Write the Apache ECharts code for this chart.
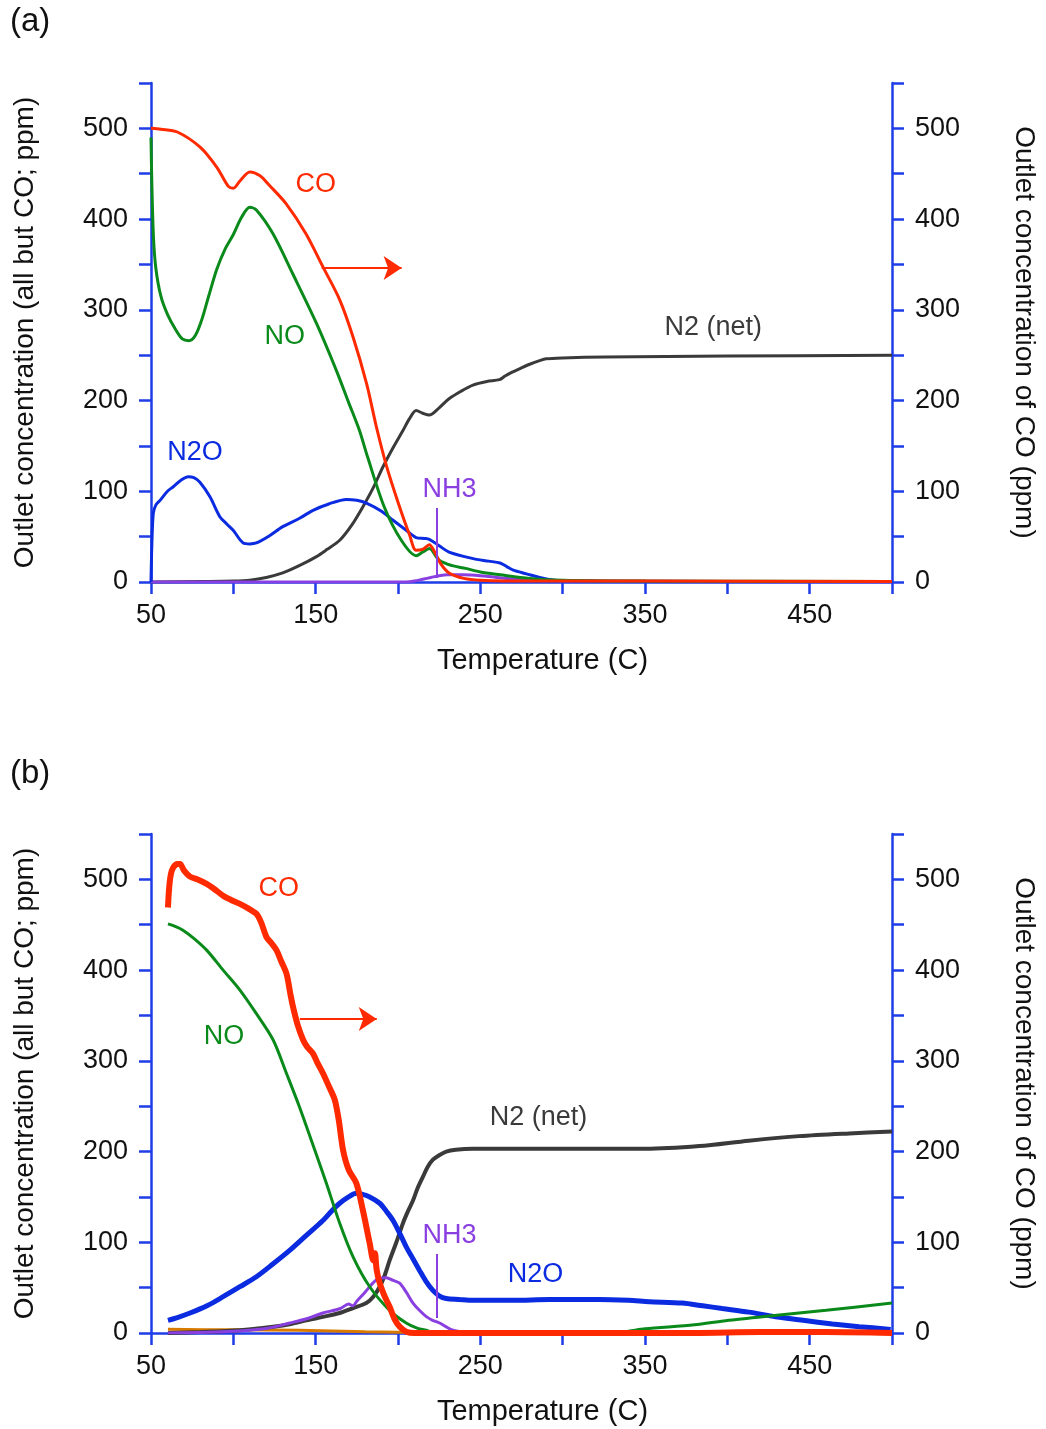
<!DOCTYPE html>
<html>
<head>
<meta charset="utf-8">
<script src="https://cdn.jsdelivr.net/npm/echarts@6/dist/echarts.min.js"></script>
<style>
  html, body { margin: 0; padding: 0; background: #fff; }
  #chart { width: 1046px; height: 1429px; }
</style>
</head>
<body>
<div id="chart"></div>
<script>
// ---- panel (a) ----
var aCoT  = [50, 56, 66, 80, 90, 97, 100, 104, 110, 116, 122, 132, 144, 154.5, 164.6, 172.7, 181, 187, 193, 200, 207, 211, 215, 219, 222, 226, 231, 240, 250, 280, 350, 500];
var aCo   = [500, 499, 496, 479, 457, 436, 434, 442, 452, 448, 437, 417, 384, 347, 311, 270, 218, 170, 128, 88, 52, 35, 36, 41, 34, 20, 10, 4, 2, 1, 1, 0.5];
var aNoT  = [50, 50.5, 51.5, 53, 56, 60, 65, 69, 73, 77, 81, 85, 90, 95, 100, 105, 110, 114, 124, 136, 150.5, 162.6, 170, 176.6, 181.5, 191.6, 202, 211, 215, 219, 225, 233, 241, 250, 262, 280, 300, 350, 500];
var aNo   = [490, 440, 380, 345, 315, 295, 278, 268, 266, 272, 290, 315, 345, 367, 383, 402, 413, 410, 384, 340, 285, 233, 198, 167, 138, 83, 46, 29, 33, 37, 24, 18, 15, 11, 8, 4, 2, 1, 0.5];
var aN2oT = [50, 50.5, 51.4, 53, 55.5, 60, 63.5, 68, 72.6, 76, 79.7, 85.8, 91.8, 96, 99.9, 106, 110, 114, 122, 130, 140, 148.4, 158, 168.7, 175, 180.8, 190, 197, 205, 211, 216, 219, 225, 231, 245, 255, 262, 266, 270, 278, 286, 295, 320, 500];
var aN2o  = [0, 40, 76, 85, 90, 100, 105, 112, 116, 115, 110, 94, 72, 64, 57, 43, 42, 43, 51, 61, 70, 79, 86, 91, 90, 87, 78, 68, 57, 49, 48, 47, 40, 33, 26, 23, 21, 17, 13, 9, 5, 2, 1, 0.5];
var aN2T  = [50, 80, 100, 110, 120, 130, 140, 150.5, 157, 164.6, 172, 178.7, 185, 190.9, 197, 203, 207, 211, 215, 219, 225, 231, 238, 245.5, 254, 261.6, 265, 269, 273.8, 280, 286, 290, 300, 326, 400, 500];
var aN2   = [0, 0.5, 1, 2, 5, 10, 18, 28, 36, 46, 63, 83, 104, 127, 148, 167, 180, 189, 186, 184, 192, 202, 210, 217, 221, 223, 227, 231, 235, 240, 244, 246, 247, 248, 249, 250];
var aNh3T = [50, 205, 210, 215, 220, 225, 230, 240, 250, 260, 275, 300, 350, 500];
var aNh3  = [0, 0, 1, 3, 5, 7, 8, 8, 7, 5, 3, 1.5, 0.5, 0];

// ---- panel (b) ----
var bCoT  = [60.3, 61, 62, 63.5, 66, 67.6, 70, 73.7, 78, 83.8, 88, 93.8, 99, 104, 109, 114, 117, 120.2, 123, 126.2, 129, 132.3, 134.5, 136.3, 139, 142.4, 145, 148.4, 151, 154.5, 158, 161.6, 164, 166.6, 170, 174.7, 178.7, 182.8, 185, 186, 187, 188.9, 192, 194.9, 198, 201, 205, 210, 380, 420, 460, 500];
var bCo   = [469, 490, 505, 513, 517, 517, 510, 503, 500, 495, 490, 482, 477, 473, 468, 462, 452, 436, 430, 422, 410, 396, 375, 359, 340, 323, 315, 308, 298, 286, 272, 257, 235, 202, 180, 165, 135, 99, 80, 88, 70, 55, 40, 29, 15, 7, 1.5, 0, 0, 1, 1, 0];
var bNoT  = [60.3, 65, 69.4, 76, 83.8, 93.8, 104, 114, 124.2, 132.3, 140, 149.4, 156.5, 164.6, 172.7, 182.8, 194.9, 205, 212, 217.2, 222, 330, 340, 350, 380, 399, 430, 460, 500];
var bNo   = [451, 448, 444, 435, 422, 400, 378, 352, 323, 286, 250, 202, 165, 121, 84, 51, 25, 11, 5, 3, 0, 0, 2, 4.6, 9, 13.6, 19.5, 25, 33];
var bN2oT = [60.3, 66, 73.7, 84, 93.8, 104, 114, 124, 134.2, 144, 154.4, 160, 164.6, 170, 174.7, 178, 182.8, 188.9, 193, 197, 201, 205, 209, 213.1, 217, 221.2, 225, 229.3, 237, 245.5, 270, 292, 322, 340, 352.6, 372.6, 385, 396.9, 413, 429.4, 446, 463.8, 480, 499.2];
var bN2o  = [14, 17, 22, 30, 40, 51, 62, 76, 91, 107, 124, 135, 143, 150, 154, 153, 150, 143, 134, 124, 110, 95, 82, 69, 57, 47, 41, 38, 37, 36, 36, 37, 37, 36, 34.5, 33, 30, 27, 23, 18, 14, 10, 7, 4];
var bN2T  = [60.3, 80, 104, 124.2, 135, 144.4, 155, 164.6, 172, 180.8, 185, 188.9, 192, 194.9, 199, 203, 206, 209.1, 212, 215.1, 218, 221.2, 225, 229.3, 235, 245.5, 280, 320, 350, 383, 413, 443.6, 474, 500];
var bN2   = [0, 1, 3, 7, 10, 14, 18, 22, 27, 33, 40, 51, 64, 80, 100, 121, 134, 146, 160, 172, 183, 191, 196, 200, 202, 203, 203, 203, 203, 206, 212, 217, 220, 222];
var bNh3T = [60.3, 100, 120, 134.2, 145, 154.4, 165, 170, 172.6, 175, 180, 184.7, 188, 192.9, 197, 201, 205, 209.1, 213, 217.2, 221, 225.3, 229, 233.4, 240, 250, 500];
var bNh3  = [0, 2, 5, 11, 16, 22, 27, 32, 30, 35, 45, 55, 60, 61, 58, 55, 45, 33, 25, 18, 14, 11, 7, 3, 1, 0, 0];
var bOrT  = [60.3, 100, 140, 180, 220, 260, 500];
var bOr   = [4, 3.5, 3, 1.5, 0.5, 0, 0];

// tick values
var xTicks = { min: 50, max: 500, step: 50 };
var yTicks = { min: 0, max: 550, step: 50 };

// annotations [text, T, ppm, colour]
var aLabels = [['CO', 150, 438, '#ff2a00'], ['NO', 131.3, 271, '#0a8a1a'], ['N2O', 76.7, 143, '#0a2be0'],
               ['NH3', 231.3, 102, '#8a3fe0'], ['N2 (net)', 391.4, 280, '#3a3a3a']];
var bLabels = [['CO', 127.6, 490, '#ff2a00'], ['NO', 94.3, 327, '#0a8a1a'], ['N2 (net)', 285.3, 237, '#3a3a3a'],
               ['NH3', 231.3, 107, '#8a3fe0'], ['N2O', 283.5, 64, '#0a2be0']];
var aArrow = [153.7, 202.2, 346];
var bArrow = [140.4, 187.1, 346];
var aPointer = [223.4, 81.5, 4.4];
var bPointer = [223.4, 87, 16.5];

var BLUE = '#1e3de6';
var FONT = 'Liberation Sans, Arial, sans-serif';

function pairs(t, v) {
  return t.map(function (x, i) { return [x, v[i]]; });
}

function xAx(g) {
  return {
    type: 'value', gridIndex: g, min: xTicks.min, max: xTicks.max, interval: xTicks.step,
    name: 'Temperature (C)', nameLocation: 'middle', nameGap: 64,
    nameTextStyle: { fontSize: 29, color: '#111', fontFamily: FONT, padding: [0, 0, 0, 42] },
    axisLine: { show: true, onZero: false, lineStyle: { color: BLUE, width: 2.5 } },
    axisTick: { show: true, length: 12, lineStyle: { color: BLUE, width: 2.5 } },
    axisLabel: { fontSize: 27, color: '#111', margin: 20, fontFamily: FONT,
      formatter: function (v) { return (v - 50) % 100 === 0 ? v : ''; } },
    splitLine: { show: false }
  };
}

function yAx(g, pos) {
  var left = pos === 'left';
  return {
    type: 'value', gridIndex: g, position: pos, min: yTicks.min, max: yTicks.max, interval: yTicks.step,
    name: left ? 'Outlet concentration (all but CO; ppm)' : 'Outlet concentration of CO (ppm)',
    nameLocation: 'middle', nameRotate: left ? 90 : -90, nameGap: left ? 112 : 118,
    nameTextStyle: { fontSize: 28, color: '#111', fontFamily: FONT },
    axisLine: { show: true, onZero: false, lineStyle: { color: BLUE, width: 2.5 } },
    axisTick: { show: true, length: 12, lineStyle: { color: BLUE, width: 2.5 } },
    axisLabel: { fontSize: 27, color: '#111', margin: 23, fontFamily: FONT,
      formatter: function (v) { return v % 100 === 0 && v <= 500 ? v : ''; } },
    splitLine: { show: false }
  };
}

function line(name, g, yIdx, t, v, color, w, extra) {
  var s = {
    name: name, type: 'line', xAxisIndex: g, yAxisIndex: yIdx,
    data: pairs(t, v), showSymbol: false, symbol: 'none',
    smooth: 0.3,
    lineStyle: { color: color, width: w }, itemStyle: { color: color }, z: 3
  };
  for (var k in extra) s[k] = extra[k];
  return s;
}

function arrowLine(a, color) {
  return {
    silent: true, symbol: ['none', 'arrow'], symbolSize: 18,
    lineStyle: { color: color, width: 2, type: 'solid' }, label: { show: false },
    data: [[{ coord: [a[0], a[2]] }, { coord: [a[1], a[2]] }]]
  };
}

function pointerLine(p, color) {
  return {
    silent: true, symbol: ['none', 'none'],
    lineStyle: { color: color, width: 2, type: 'solid' }, label: { show: false },
    data: [[{ coord: [p[0], p[1]] }, { coord: [p[0], p[2]] }]]
  };
}

var chart = echarts.init(document.getElementById('chart'), null, { renderer: 'canvas' });

var option = {
  animation: false,
  backgroundColor: '#fff',
  grid: [
    { left: 151, width: 742, top: 83, height: 499 },
    { left: 151, width: 742, top: 834, height: 499 }
  ],
  xAxis: [xAx(0), xAx(1)],
  yAxis: [yAx(0, 'left'), yAx(0, 'right'), yAx(1, 'left'), yAx(1, 'right')],
  series: [
    line('N2', 0, 0, aN2T, aN2, '#3a3a3a', 3),
    line('NH3', 0, 0, aNh3T, aNh3, '#8a3fe0', 3, { markLine: pointerLine(aPointer, '#8a3fe0') }),
    line('N2O', 0, 0, aN2oT, aN2o, '#0a2be0', 3),
    line('NO', 0, 0, aNoT, aNo, '#0a8a1a', 3),
    line('CO', 0, 1, aCoT, aCo, '#ff2a00', 3, { markLine: arrowLine(aArrow, '#ff2a00') }),

    line('orange', 1, 2, bOrT, bOr, '#d97a00', 3),
    line('N2', 1, 2, bN2T, bN2, '#3a3a3a', 4),
    line('NH3', 1, 2, bNh3T, bNh3, '#8a3fe0', 3, { markLine: pointerLine(bPointer, '#8a3fe0') }),
    line('N2O', 1, 2, bN2oT, bN2o, '#0a2be0', 5),
    line('NO', 1, 2, bNoT, bNo, '#0a8a1a', 3),
    line('CO', 1, 3, bCoT, bCo, '#ff2a00', 6, { markLine: arrowLine(bArrow, '#ff2a00') })
  ]
};
chart.setOption(option);

// curve labels placed in data coordinates
var graphics = [
  { type: 'text', left: 10, top: 5, style: { text: '(a)', fontSize: 33, fill: '#111', fontFamily: FONT } },
  { type: 'text', left: 10, top: 757, style: { text: '(b)', fontSize: 33, fill: '#111', fontFamily: FONT } }
];
function addLabels(list, g) {
  list.forEach(function (l) {
    var p = chart.convertToPixel({ xAxisIndex: g, yAxisIndex: g * 2 }, [l[1], l[2]]);
    graphics.push({
      type: 'text', x: p[0], y: p[1],
      style: { text: l[0], fontSize: 27, fill: l[3], fontFamily: FONT, align: 'center', verticalAlign: 'middle' }
    });
  });
}
addLabels(aLabels, 0);
addLabels(bLabels, 1);
chart.setOption({ graphic: graphics });
</script>
</body>
</html>
